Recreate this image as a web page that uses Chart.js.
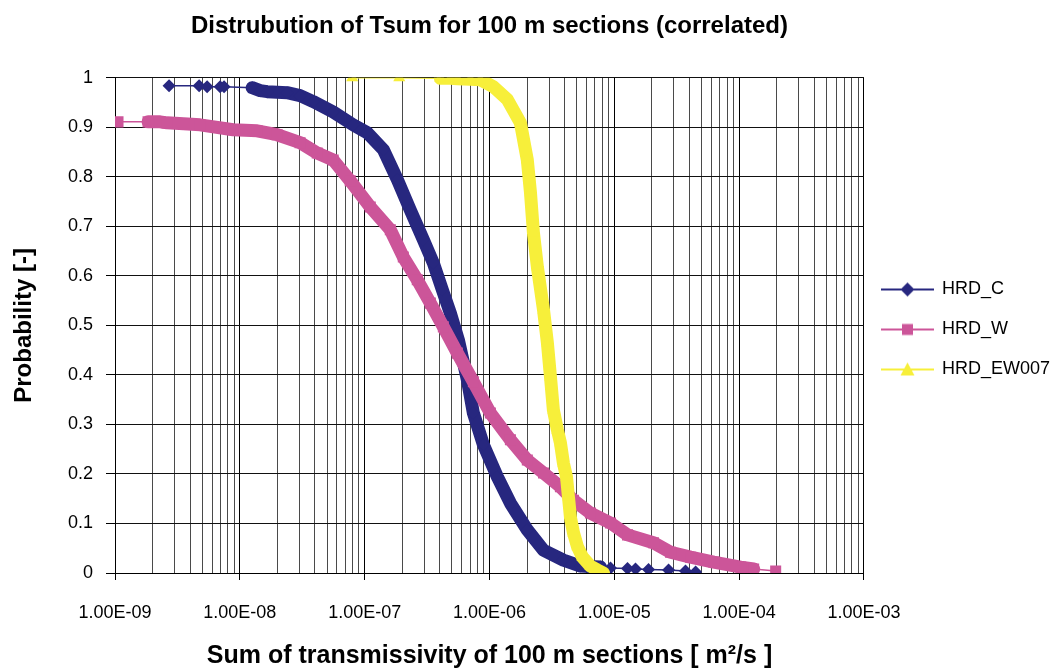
<!DOCTYPE html>
<html>
<head>
<meta charset="utf-8">
<script src="https://cdn.jsdelivr.net/npm/chart.js@4.4.0/dist/chart.umd.min.js"></script>
<style>
  html, body { margin: 0; padding: 0; background: #fff; }
  #wrap { width: 1054px; height: 671px; }
</style>
</head>
<body>
<div id="wrap"><canvas id="myChart"></canvas></div>
<script>
// values
const seriesNames = ["HRD_C", "HRD_W", "HRD_EW007"];

const hrdC_T = [2.71e-9, 4.72e-9, 5.47e-9, 6.95e-9, 7.48e-9, 1.256e-8, 1.455e-8, 1.656e-8, 2.39e-8, 3.04e-8,
  3.87e-8, 5.6e-8, 8.1e-8, 1.05e-7, 1.41e-7, 1.83e-7, 2.32e-7, 2.95e-7, 3.55e-7, 4.19e-7,
  4.86e-7, 5.63e-7, 6.65e-7, 7.43e-7, 8.94e-7, 1.157e-6, 1.471e-6, 2.01e-6, 2.71e-6, 3.91e-6,
  5.36e-6, 7.75e-6, 9.32e-6, 1.276e-5, 1.479e-5, 1.88e-5, 2.72e-5, 3.72e-5, 4.48e-5];
const hrdC_P = [0.984, 0.984, 0.982, 0.982, 0.982, 0.980, 0.974, 0.972, 0.970, 0.964,
  0.952, 0.931, 0.905, 0.889, 0.855, 0.794, 0.733, 0.673, 0.626, 0.572,
  0.525, 0.471, 0.390, 0.323, 0.259, 0.194, 0.141, 0.087, 0.046, 0.026,
  0.014, 0.012, 0.010, 0.009, 0.008, 0.007, 0.006, 0.004, 0.002];

const hrdW_T = [1.057e-9, 1.84e-9, 2.30e-9, 2.61e-9, 4.80e-9, 8.84e-9, 1.376e-8, 1.99e-8, 3.04e-8, 4.17e-8,
  5.6e-8, 7.66e-8, 1.109e-7, 1.605e-7, 2.04e-7, 2.64e-7, 3.36e-7, 4.27e-7, 5.53e-7, 7.43e-7,
  1.017e-6, 1.471e-6, 2.01e-6, 2.71e-6, 3.70e-6, 4.71e-6, 6.44e-6, 9.32e-6, 1.276e-5, 2.06e-5,
  2.82e-5, 4.08e-5, 6.25e-5, 1.028e-4, 1.307e-4, 1.962e-4];
const hrdW_P = [0.911, 0.911, 0.911, 0.909, 0.905, 0.895, 0.893, 0.885, 0.869, 0.848,
  0.834, 0.792, 0.739, 0.693, 0.638, 0.592, 0.545, 0.497, 0.444, 0.386,
  0.323, 0.269, 0.228, 0.202, 0.174, 0.147, 0.121, 0.101, 0.077, 0.061,
  0.042, 0.032, 0.022, 0.012, 0.008, 0.004];

const hrdEW_T = [7.95e-8, 1.894e-7, 4.04e-7, 4.86e-7, 5.53e-7, 7.03e-7, 8.45e-7, 1.075e-6, 1.392e-6, 1.77e-6,
  2.01e-6, 2.13e-6, 2.25e-6, 2.42e-6, 2.71e-6, 2.91e-6, 3.08e-6, 3.25e-6, 3.50e-6, 3.70e-6,
  3.91e-6, 4.14e-6, 4.29e-6, 4.46e-6, 4.71e-6, 5.07e-6, 5.56e-6, 6.44e-6, 7.33e-6, 8.19e-6];
const hrdEW_P = [1.0, 1.0, 0.999, 0.999, 0.998, 0.997, 0.996, 0.982, 0.956, 0.909,
  0.834, 0.768, 0.687, 0.618, 0.531, 0.465, 0.396, 0.329, 0.289, 0.263,
  0.222, 0.194, 0.154, 0.111, 0.081, 0.053, 0.032, 0.014, 0.006, 0.0];

const xTickLabels = ["1.00E-09", "1.00E-08", "1.00E-07", "1.00E-06", "1.00E-05", "1.00E-04", "1.00E-03"];
const yTickLabels = ["0", "0.1", "0.2", "0.3", "0.4", "0.5", "0.6", "0.7", "0.8", "0.9", "1"];

// index range where markers are packed so tight they read as a thick band
const denseSpan = [[5, 31], [1, 34], [2, 29]];

const colors = ["#27277F", "#CC5599", "#F7EF3A"];
const shapes = ["rectRot", "rect", "triangle"];
const radii = [6.5, 7.8, 7];

function toPoints(T, P) {
  return T.map((t, i) => ({ x: t, y: P[i] }));
}

function isDecade(v) {
  const k = Math.round(Math.log10(v));
  return Math.abs(v - Math.pow(10, k)) / v < 1e-6;
}

// legend sample: short line with the marker in the middle
function legendIcon(color, shape) {
  const c = document.createElement("canvas");
  c.width = 57; c.height = 16;
  const g = c.getContext("2d");
  g.strokeStyle = color; g.lineWidth = 2;
  g.beginPath(); g.moveTo(0, 8); g.lineTo(53, 8); g.stroke();
  g.fillStyle = color;
  g.beginPath();
  if (shape == "rectRot") { g.moveTo(26.5, 1); g.lineTo(33.5, 8); g.lineTo(26.5, 15); g.lineTo(19.5, 8); }
  else if (shape == "rect") { g.rect(21, 2.5, 11, 11); }
  else { g.moveTo(26.5, 1); g.lineTo(33.5, 14); g.lineTo(19.5, 14); }
  g.closePath(); g.fill();
  return c;
}

const allT = [hrdC_T, hrdW_T, hrdEW_T];
const allP = [hrdC_P, hrdW_P, hrdEW_P];

const datasets = seriesNames.map((name, i) => {
  const span = denseSpan[i];
  return {
    label: name,
    data: toPoints(allT[i], allP[i]),
    borderColor: colors[i],
    backgroundColor: colors[i],
    pointBackgroundColor: colors[i],
    pointBorderColor: colors[i],
    pointBorderWidth: 0,
    pointStyle: shapes[i],
    pointRadius: radii[i],
    borderWidth: 1.5,
    borderCapStyle: "round",
    borderJoinStyle: "round",
    showLine: true,
    tension: 0,
    order: 2 - i,
    segment: {
      borderWidth: (c) => (c.p0DataIndex >= span[0] && c.p1DataIndex <= span[1]) ? 13 : 1.5
    }
  };
});

const icons = seriesNames.map((n, i) => legendIcon(colors[i], shapes[i]));

// legend sits a few px above the plot's middle in the original
const legendNudge = {
  id: "legendNudge",
  afterLayout: (chart) => {
    chart.legend.top -= 6;
    chart.legend.bottom -= 6;
  }
};

const ctx = document.getElementById("myChart").getContext("2d");
const myChart = new Chart(ctx, {
  type: "scatter",
  data: { datasets: datasets },
  plugins: [legendNudge],
  options: {
    responsive: true,
    maintainAspectRatio: false,
    animation: false,
    layout: { padding: { left: 0, right: -6, top: 0, bottom: 0 } },
    plugins: {
      tooltip: { enabled: false },
      title: {
        display: true,
        text: "Distrubution of Tsum for 100 m sections (correlated)",
        fullSize: false,
        color: "#000",
        font: { family: "'Liberation Sans', Arial, sans-serif", size: 24, weight: "bold" },
        padding: { top: 12, bottom: 37 }
      },
      legend: {
        position: "right",
        labels: {
          usePointStyle: true,
          pointStyleWidth: 47,
          boxHeight: 16,
          padding: 22,
          color: "#000",
          font: { family: "'Liberation Sans', Arial, sans-serif", size: 18 },
          generateLabels: () => seriesNames.map((n, i) => ({
            text: n,
            pointStyle: icons[i],
            fillStyle: colors[i],
            strokeStyle: colors[i],
            lineWidth: 0,
            hidden: false,
            datasetIndex: i
          }))
        }
      }
    },
    scales: {
      x: {
        type: "logarithmic",
        min: 1e-9,
        max: 1e-3,
        afterBuildTicks: (scale) => {
          const t = [];
          for (let e = -9; e < -3; e++) {
            for (let m = 1; m <= 9; m++) t.push({ value: m * Math.pow(10, e) });
          }
          t.push({ value: 1e-3 });
          scale.ticks = t;
        },
        afterFit: (scale) => { scale.height = 98; },
        border: { color: "#000", width: 1 },
        grid: {
          color: (c) => (c.tick && isDecade(c.tick.value)) ? "#000" : "#4a4a4a",
          tickColor: (c) => (c.tick && isDecade(c.tick.value)) ? "#000" : "rgba(0,0,0,0)",
          tickLength: 7,
          lineWidth: 1
        },
        ticks: {
          autoSkip: false,
          maxRotation: 0,
          minRotation: 0,
          padding: 22,
          color: "#000",
          font: { family: "'Liberation Sans', Arial, sans-serif", size: 18 },
          callback: (v) => isDecade(v) ? xTickLabels[Math.round(Math.log10(v)) + 9] : ""
        },
        title: {
          display: true,
          text: "Sum of transmissivity of 100 m sections [ m\u00B2/s ]",
          color: "#000",
          font: { family: "'Liberation Sans', Arial, sans-serif", size: 25, weight: "bold" },
          padding: { top: 0, bottom: 0 }
        }
      },
      y: {
        min: 0,
        max: 1,
        afterFit: (scale) => { scale.width = 115; },
        border: { color: "#000", width: 1 },
        grid: { color: "#111", tickColor: "#000", tickLength: 9, lineWidth: 1 },
        ticks: {
          stepSize: 0.1,
          padding: 13,
          color: "#000",
          font: { family: "'Liberation Sans', Arial, sans-serif", size: 18 },
          callback: (v, i) => yTickLabels[i]
        },
        title: {
          display: true,
          text: "Probability [-]",
          color: "#000",
          font: { family: "'Liberation Sans', Arial, sans-serif", size: 24, weight: "bold" },
          padding: { top: 10, bottom: 0 }
        }
      }
    }
  }
});
</script>
</body>
</html>
